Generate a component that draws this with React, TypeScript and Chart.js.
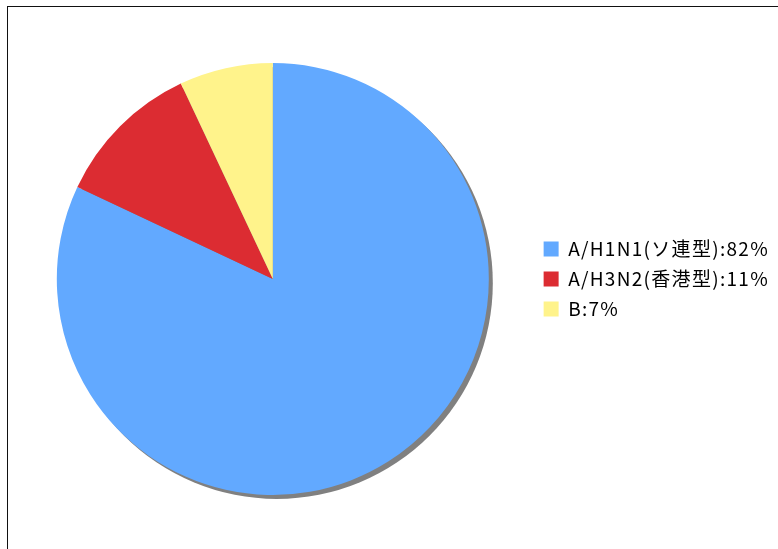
import React, { useEffect, useRef } from "react";
import { Chart, registerables } from "chart.js";

Chart.register(...registerables);

const categories = ["A/H1N1(ソ連型)", "A/H3N2(香港型)", "B"];
const shares = [82, 11, 7];
const colors = ["#62a9ff", "#dc2c32", "#fff38b"];

const shadowPlugin = {
  id: "pieShadow",
  beforeDatasetsDraw(chart: any) {
    const meta = chart.getDatasetMeta(0);
    const arc = meta.data[0];
    if (!arc) return;
    const { x, y, outerRadius } = arc.getProps(["x", "y", "outerRadius"], true);
    const ctx = chart.ctx;
    ctx.save();
    ctx.fillStyle = "#808080";
    ctx.beginPath();
    ctx.arc(x + 4, y + 4, outerRadius, 0, Math.PI * 2);
    ctx.fill();
    ctx.restore();
  },
};

const spacingPlugin = {
  id: "letterSpacing",
  beforeUpdate(chart: any) {
    chart.ctx.letterSpacing = "1.3px";
  },
  beforeDraw(chart: any) {
    chart.ctx.letterSpacing = "1.3px";
  },
};

export default function App() {
  const ref = useRef<HTMLCanvasElement | null>(null);
  useEffect(() => {
    if (!ref.current) return;
    const chart = new Chart(ref.current, {
      type: "pie",
      data: {
        labels: categories.map((c, i) => `${c}:${shares[i]}%`),
        datasets: [
          {
            data: shares,
            backgroundColor: colors,
            borderWidth: 0,
          },
        ],
      },
      options: {
        animation: false,
        responsive: false,
        maintainAspectRatio: false,
        layout: { padding: { left: 13, top: 63, bottom: 54, right: 0 } },
        plugins: {
          tooltip: { enabled: false },
          legend: {
            position: "right",
            labels: {
              boxWidth: 15,
              boxHeight: 15,
              padding: 11,
              color: "#000",
              font: { family: "'Noto Sans CJK JP', sans-serif", size: 19 },
            },
          },
        },
      },
      plugins: [spacingPlugin, shadowPlugin],
    });
    return () => chart.destroy();
  }, []);
  return (
    <div style={{ position: "fixed", left: 0, top: 0, width: 778, height: 549, background: "#fff", overflow: "hidden" }}>
      <canvas ref={ref} width={779} height={549} style={{ position: "absolute", left: 0, top: 0 }} />
      <div
        style={{
          position: "absolute",
          left: 7,
          top: 6,
          width: 1000,
          height: 1000,
          borderLeft: "1px solid #111",
          borderTop: "1px solid #111",
          pointerEvents: "none",
        }}
      />
    </div>
  );
}
